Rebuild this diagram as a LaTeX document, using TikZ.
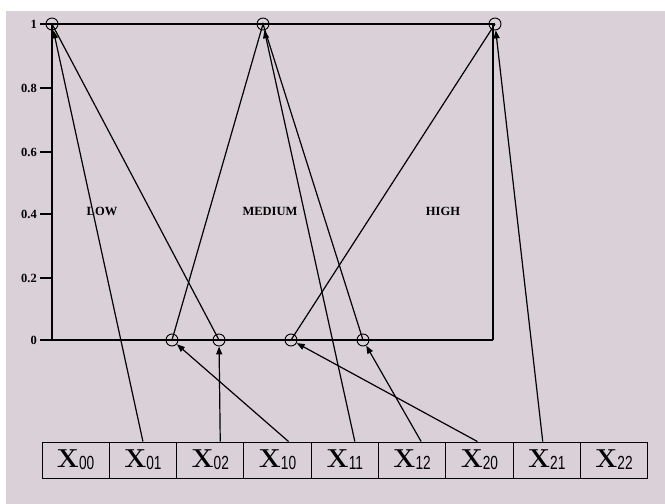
\documentclass[tikz,border=0pt]{standalone}
\usepackage{fontspec}
\usetikzlibrary{arrows.meta,calc}
\newfontfamily\timesfont{Liberation Serif}
\newfontfamily\subfont[FakeStretch=0.72]{Liberation Sans}
\definecolor{bgmauve}{RGB}{217,208,216}
\tikzset{
  ring/.style={circle,draw,line width=0.9pt,minimum size=12pt,inner sep=0pt},
  axis/.style={line width=1.6pt},
  mf/.style={line width=1.2pt},
  arr/.style={line width=1.2pt,-{Triangle[length=8pt,width=6pt]}},
  cell/.style={draw,line width=0.9pt,minimum width=67.3pt,minimum height=36pt,inner sep=0pt,font=\fontsize{26}{26}\selectfont},
  tlab/.style={font=\timesfont\bfseries\fontsize{12.5}{12.5}\selectfont,anchor=east,inner sep=0pt},
  flab/.style={font=\timesfont\bfseries\fontsize{12.5}{12.5}\selectfont,inner sep=0pt}
}
\newcommand{\xsub}[1]{\textbf{X}\raisebox{-2pt}{\fontsize{19}{19}\subfont #1}}
\begin{document}
\begin{tikzpicture}[x=1pt,y=-1pt]
\useasboundingbox (0,0) rectangle (665,504);
\fill[bgmauve] (6,11) rectangle (665,504);
% axes
\draw[axis] (52,340) -- (52,24);
\draw[axis] (40,24) -- (495,24);
\draw[axis] (40,340) -- (493,340);
\draw[mf] (493,340) -- (493,24);
\foreach \yy/\lab in {24/1,88/0.8,152/0.6,214/0.4,278/0.2,340/0}{
  \draw[axis] (40,\yy) -- (52,\yy);
  \node[tlab] at (37,\yy) {\lab};
}
% peaks and feet
\node[ring] (lowtop) at (52,24) {};
\node[ring] (medtop) at (263,24) {};
\node[ring] (hightop) at (495,24) {};
\node[ring] (b1) at (172,340) {};
\node[ring] (b2) at (219,340) {};
\node[ring] (b3) at (291,340) {};
\node[ring] (b4) at (363,340) {};
% membership slopes
\draw[mf] (lowtop.center) -- (b2.center);
\draw[mf] (b1.center) -- (medtop.center) -- (b4.center);
\draw[mf] (b3.center) -- (hightop.center);
% labels
\node[flab] (lowlab) at (102,211) {LOW};
\node[flab] (medlab) at (270,211) {MEDIUM};
\node[flab] (highlab) at (443,211) {HIGH};
% cells
\foreach \i/\s in {0/00,1/01,2/02,3/10,4/11,5/12,6/20,7/21,8/22}{
  \node[cell] (x\s) at ({42+67.3*(\i+0.5)},460) {\xsub{\s}};
}
% connectors
\draw[arr] (x01.north) -- (lowtop);
\draw[arr] ([xshift=10pt]x02.north) -- (b2);
\draw[arr] ([xshift=11pt]x10.north) -- (b1);
\draw[arr] ([xshift=10pt]x11.north) -- (medtop);
\draw[arr] ([xshift=9pt]x12.north) -- (b4);
\draw[arr] ([xshift=-2pt]x20.north) -- (b3);
\draw[arr] ([xshift=-4pt]x21.north) -- (hightop);
\end{tikzpicture}
\end{document}
